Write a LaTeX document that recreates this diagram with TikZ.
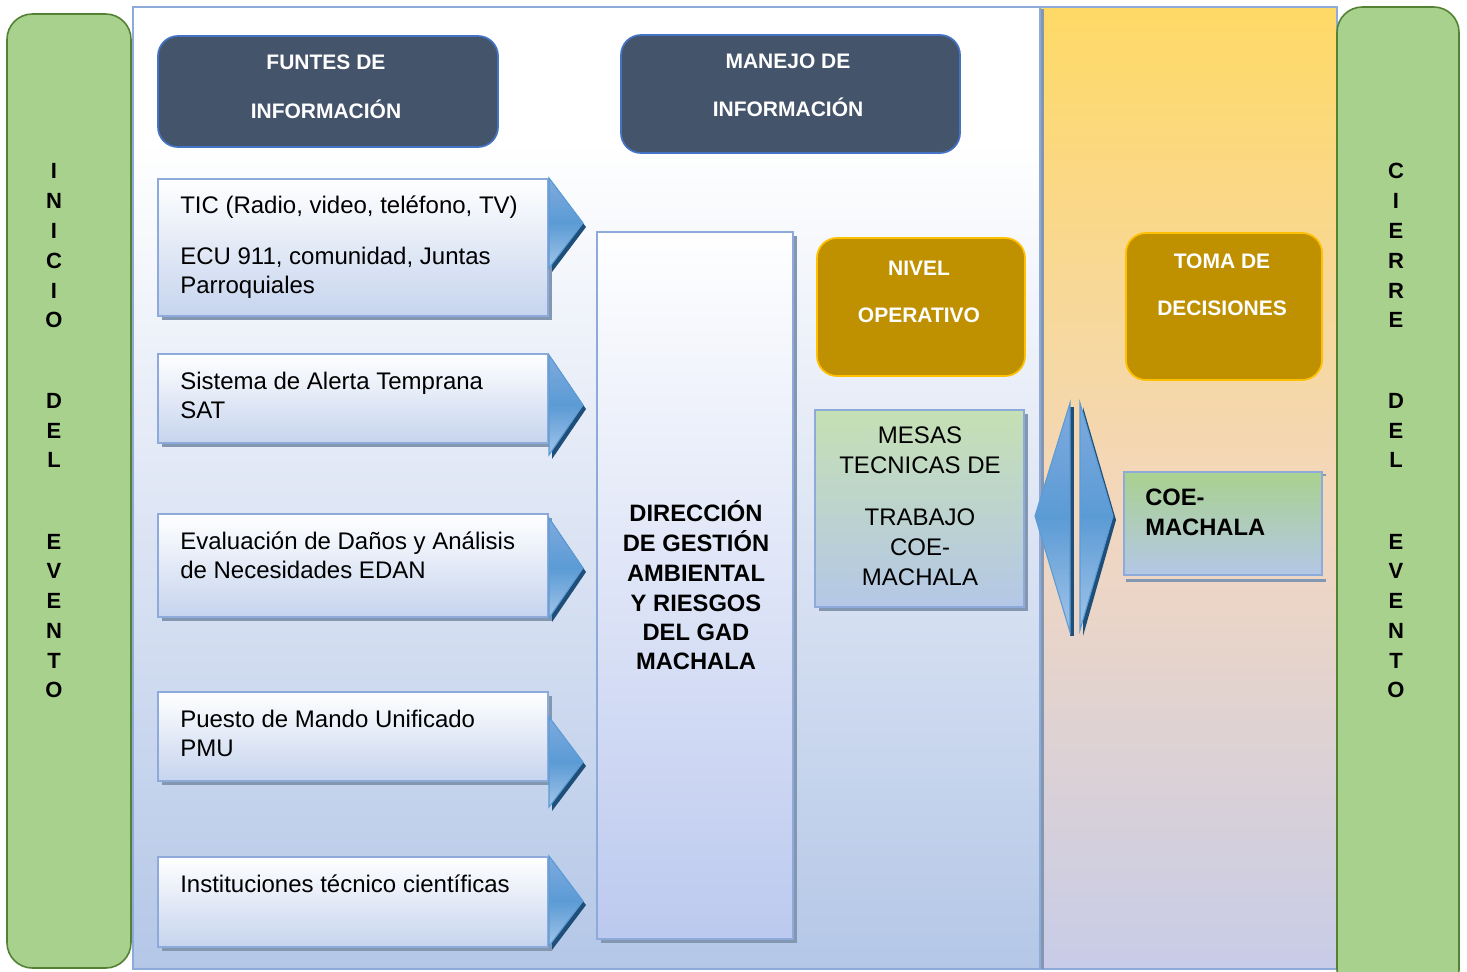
\documentclass[tikz,border=0pt]{standalone}
\usepackage{fontspec}
\setmainfont{Liberation Sans}
\usetikzlibrary{shadows}
\definecolor{grn}{HTML}{A9D18E}
\definecolor{grnd}{HTML}{548235}
\definecolor{hdrf}{HTML}{44546A}
\definecolor{hdrb}{HTML}{4472C4}
\definecolor{gold}{HTML}{BF9000}
\definecolor{goldb}{HTML}{FFC000}
\definecolor{lb}{HTML}{8EAADB}
\definecolor{pale}{HTML}{B4C7E7}
\definecolor{boxbot}{HTML}{C6D4EE}
\definecolor{shd}{HTML}{8497B0}
\definecolor{arr}{HTML}{5B9BD5}
\definecolor{arrl}{HTML}{A2C4E8}
\definecolor{arrt}{HTML}{7FAADE}
\definecolor{arrd}{HTML}{1F4E79}
\definecolor{mesat}{HTML}{C5E0B4}
\definecolor{coet}{HTML}{A9D18E}
\definecolor{bgmid}{RGB}{224,231,245}
\definecolor{ortop}{HTML}{FFD966}
\definecolor{ormid}{RGB}{242,215,192}
\definecolor{orbot}{RGB}{200,204,232}
\pgfdeclareverticalshading{mainsh}{100bp}{color(0bp)=(pale); color(25bp)=(pale); color(50bp)=(bgmid); color(68bp)=(white); color(100bp)=(white)}
\pgfdeclareverticalshading{orsh}{100bp}{color(0bp)=(orbot); color(25bp)=(orbot); color(48bp)=(ormid); color(75bp)=(ortop); color(100bp)=(ortop)}
\tikzset{
  sidebar/.style={draw=grnd, line width=1.2pt, fill=grn, rounded corners=19pt},
  hdr/.style={draw=hdrb, line width=1.3pt, fill=hdrf, rounded corners=15pt},
  goldbox/.style={draw=goldb, line width=1.3pt, fill=gold, rounded corners=15pt},
  panel/.style={draw=lb, line width=1.8pt},
  lbox/.style={draw=lb, line width=1.5pt, top color=white, bottom color=boxbot,
    drop shadow={shadow xshift=3pt, shadow yshift=-3pt, fill=shd, opacity=1}},
  txt/.style={font=\fontsize{18}{21.6}\selectfont, inner sep=0pt, anchor=base west},
  ctxt/.style={font=\fontsize{18}{21.6}\selectfont, inner sep=0pt, anchor=base},
  btxt/.style={font=\bfseries\fontsize{17.8}{21.6}\selectfont, inner sep=0pt, anchor=base},
  htxt/.style={font=\bfseries\fontsize{15.75}{19}\selectfont, text=white, inner sep=0pt, anchor=base},
  side/.style={font=\bfseries\fontsize{16.5}{19}\selectfont, inner sep=0pt, anchor=base},
  arrowfill/.style={draw=arr, line width=0.8pt, top color=arrt, bottom color=arrl, middle color=arr},
}
% box node: [style]{name}{x1}{y1}{x2}{y2}
\newcommand\bx[6][]{\node[#1, anchor=north west, inner sep=0pt, outer sep=0pt,
  minimum width={(#5-#3)*0.75pt}, minimum height={(#6-#4)*0.75pt}] (#2) at (#3,#4) {};}
% right arrow: x0, top y, half height
\newcommand\rarr[3]{%
  \fill[arrd] (#1+3,#2+4) -- (#1+37,#2+#3+4) -- (#1+3,#2+2*#3+4) -- cycle;
  \path[arrowfill] (#1,#2) -- (#1+34,#2+#3) -- (#1,#2+2*#3) -- cycle;}
\begin{document}
\begin{tikzpicture}[x=0.75pt, y=-0.75pt]
\useasboundingbox (0,0) rectangle (1467,971);
\clip (0,0) rectangle (1467,971);
% panels
\bx[panel, shading=mainsh]{main}{133}{7}{1040}{969}
\bx[panel, shading=orsh]{orp}{1040}{7}{1337}{969}
\fill[shd] (1041,9) rectangle (1044,969);
\bx[sidebar]{leftbar}{7}{14}{131}{968}
\bx[sidebar]{rightbar}{1337}{7}{1459}{995}
% headers
\bx[hdr]{h1}{158}{36}{498}{147}
\bx[hdr]{h2}{621}{35}{960}{153}
\node[htxt] (h1a) at (326,69.5) {FUNTES DE};
\node[htxt] (h1b) at (326,118.5) {INFORMACIÓN};
\node[htxt] (h2a) at (788,68.5) {MANEJO DE};
\node[htxt] (h2b) at (788,116.5) {INFORMACIÓN};
% left boxes
\bx[lbox]{b1}{158}{179}{548}{316}
\bx[lbox]{b2}{158}{354}{548}{443}
\bx[lbox]{b3}{158}{514}{548}{617}
\bx[lbox]{b4}{158}{692}{548}{781}
\bx[lbox]{b5}{158}{857}{548}{947}
\rarr{549}{178}{45}
\rarr{549}{355}{50}
\rarr{549}{518}{50}
\rarr{549}{717}{45}
\rarr{549}{856}{45}
\node[txt] (t1a) at (180,213) {TIC (Radio, video, teléfono, TV)};
\node[txt] (t1b) at (180,264) {ECU 911, comunidad, Juntas};
\node[txt] (t1c) at (180,293) {Parroquiales};
\node[txt] (t2a) at (180,389) {Sistema de Alerta Temprana};
\node[txt] (t2b) at (180,418) {SAT};
\node[txt] (t3a) at (180,549) {Evaluación de Daños y Análisis};
\node[txt] (t3b) at (180,578) {de Necesidades EDAN};
\node[txt] (t4a) at (180,727) {Puesto de Mando Unificado};
\node[txt] (t4b) at (180,756) {PMU};
\node[txt] (t5a) at (180,892) {Instituciones técnico científicas};
% center box
\bx[draw=lb, line width=1.5pt, top color=white, bottom color=boxbot!95!blue,
  drop shadow={shadow xshift=3pt, shadow yshift=-3pt, fill=shd, opacity=1}]{dir}{597}{232}{793}{939}
\foreach \t/\y [count=\i] in {DIRECCIÓN/521.5, DE GESTIÓN/551.5, AMBIENTAL/581.5, Y RIESGOS/611.5, DEL GAD/640.5, MACHALA/669.5}
  \node[btxt] (d\i) at (696,\y) {\t};
% nivel operativo
\bx[goldbox]{niv}{817}{238}{1025}{376}
\node[htxt] (niva) at (919,275) {NIVEL};
\node[htxt] (nivb) at (919,322) {OPERATIVO};
\bx[draw=lb, line width=1.5pt, top color=mesat, bottom color=pale,
  drop shadow={shadow xshift=3pt, shadow yshift=-3pt, fill=shd, opacity=1}]{mesa}{815}{410}{1024}{607}
\foreach \t/\y [count=\i] in {MESAS/443, TECNICAS DE/473, TRABAJO/525, COE-/555, MACHALA/585}
  \node[ctxt] (m\i) at (920,\y) {\t};
% double arrow
\fill[arrd] (1070,407) rectangle (1074,636);
\path[arrowfill] (1035,516) -- (1070,403) -- (1070,632) -- cycle;
\fill[arrd] (1083,407) -- (1116,520) -- (1083,636) -- cycle;
\path[arrowfill] (1080,403) -- (1113,516) -- (1080,630) -- cycle;
% toma de decisiones
\bx[goldbox]{toma}{1126}{233}{1322}{380}
\node[htxt] (tomaa) at (1222,268.5) {TOMA DE};
\node[htxt] (tomab) at (1222,315.5) {DECISIONES};
\fill[shd] (1126,579) rectangle (1326,582);
\fill[shd] (1322,474) rectangle (1326,476);
\bx[draw=lb, line width=1.5pt, top color=coet, bottom color=pale]{coe}{1124}{472}{1322}{575}
\node[btxt, anchor=base west] (coea) at (1145,505.5) {COE-};
\node[btxt, anchor=base west] (coeb) at (1145,535) {MACHALA};
% side letters
\foreach \a/\b/\y [count=\i] in {I/C/170, N/I/200, I/E/230, C/R/260, I/R/290, O/E/319, D/D/400, E/E/430, L/L/459, E/E/541, V/V/570, E/E/600, N/N/630, T/T/660, O/O/689} {
  \node[side] (l\i) at (54,\y+8) {\a};
  \node[side] (r\i) at (1396,\y+8) {\b};
}
\end{tikzpicture}
\end{document}
